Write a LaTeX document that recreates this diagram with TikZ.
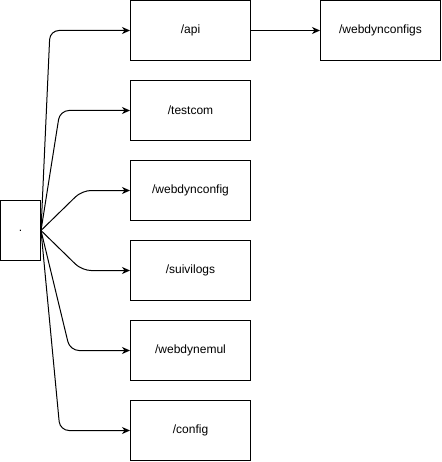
\documentclass[tikz,border=0pt]{standalone}
\usepackage{fontspec}
\setmainfont{Liberation Sans}
\usetikzlibrary{arrows.meta}
\begin{document}
\begin{tikzpicture}[x=1pt,y=-1pt,
  box/.style={draw,line width=1pt,minimum width=120pt,minimum height=60pt,inner sep=0pt,font=\fontsize{12}{14}\selectfont},
  smallbox/.style={draw,line width=1pt,minimum width=40pt,minimum height=60pt,inner sep=0pt,font=\fontsize{12}{14}\selectfont},
  conn/.style={line width=1pt,rounded corners=9pt,-{Stealth[length=8pt,width=7pt,inset=2.5pt]}}]
\useasboundingbox (0,0) rectangle (441,462);
\node[smallbox] (root) at (20.5,230.5) {.};
\node[box] (api) at (190.5,30.5) {/api};
\node[box] (testcom) at (190.5,110.5) {/testcom};
\node[box] (webdynconfig) at (190.5,190.5) {/webdynconfig};
\node[box] (suivilogs) at (190.5,270.5) {/suivilogs};
\node[box] (webdynemul) at (190.5,350.5) {/webdynemul};
\node[box] (config) at (190.5,430.5) {/config};
\node[box] (webdynconfigs) at (380.5,30.5) {/webdynconfigs};
\coordinate (c1) at (50,30.5);
\coordinate (c2) at (60,110.5);
\coordinate (c3) at (82,190.5);
\coordinate (c4) at (82,270.5);
\coordinate (c5) at (70,350.5);
\coordinate (c6) at (60,430.5);
\draw[conn] (root.east) -- (c1) -- (api.west);
\draw[conn] (root.east) -- (c2) -- (testcom.west);
\draw[conn] (root.east) -- (c3) -- (webdynconfig.west);
\draw[conn] (root.east) -- (c4) -- (suivilogs.west);
\draw[conn] (root.east) -- (c5) -- (webdynemul.west);
\draw[conn] (root.east) -- (c6) -- (config.west);
\draw[conn] (api.east) -- (webdynconfigs.west);
\end{tikzpicture}
\end{document}
